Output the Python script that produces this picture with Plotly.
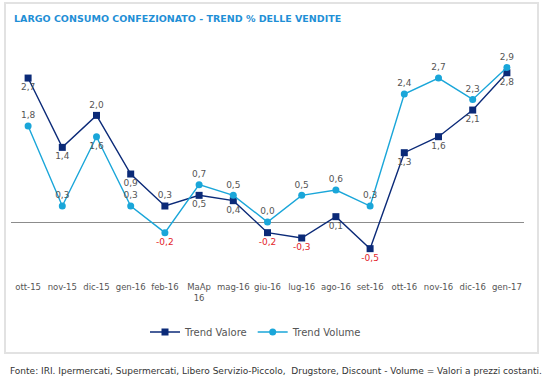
import plotly.graph_objects as go

categories = ["ott-15", "nov-15", "dic-15", "gen-16", "feb-16", "MaAp<br>16", "mag-16",
              "giu-16", "lug-16", "ago-16", "set-16", "ott-16", "nov-16", "dic-16", "gen-17"]
trend_valore = [2.7, 1.4, 2.0, 0.9, 0.3, 0.5, 0.4, -0.2, -0.3, 0.1, -0.5, 1.3, 1.6, 2.1, 2.8]
trend_volume = [1.8, 0.3, 1.6, 0.3, -0.2, 0.7, 0.5, 0.0, 0.5, 0.6, 0.3, 2.4, 2.7, 2.3, 2.9]

valore_pos = ["bottom center", "bottom center", "top center", "bottom center", "top center",
              "bottom center", "bottom center", "bottom center", "bottom center", "bottom center",
              "bottom center", "bottom center", "bottom center", "bottom center", "bottom center"]
volume_pos = ["top center", "top center", "bottom center", "top center", "bottom center",
              "top center", "top center", "top center", "top center", "top center",
              "top center", "top center", "top center", "top center", "top center"]

FONT = "DejaVu Sans"
GREY = "#555555"
RED = "#e3242b"
NAVY = "#0b2a78"
CYAN = "#1aa6d9"

def fmt(v):
    return f"{v:.1f}".replace(".", ",")

def colors(vals):
    return [RED if v < 0 else GREY for v in vals]

x = list(range(len(categories)))

fig = go.Figure()
fig.add_trace(go.Scatter(
    x=x, y=trend_valore, name="Trend Valore", mode="lines+markers+text",
    line=dict(color=NAVY, width=1.4),
    marker=dict(symbol="square", size=7, color=NAVY),
    text=[fmt(v) for v in trend_valore], textposition=valore_pos,
    textfont=dict(family=FONT, size=9, color=colors(trend_valore)),
    cliponaxis=False,
))
fig.add_trace(go.Scatter(
    x=x, y=trend_volume, name="Trend Volume", mode="lines+markers+text",
    line=dict(color=CYAN, width=1.4),
    marker=dict(symbol="circle", size=7, color=CYAN),
    text=[fmt(v) for v in trend_volume], textposition=volume_pos,
    textfont=dict(family=FONT, size=9, color=colors(trend_volume)),
    cliponaxis=False,
))

L, R, T, B = 11, 32, 40, 101
W, H = 556, 381
pw = W - L - R
ph = H - T - B

def px_x(p):
    return (p - L) / pw

def px_y(p):
    return (H - B - p) / ph

fig.update_layout(
    width=W, height=H,
    margin=dict(l=L, r=R, t=T, b=B),
    paper_bgcolor="white", plot_bgcolor="white",
    font=dict(family=FONT, color=GREY),
    showlegend=True,
    hovermode=False,
    legend=dict(orientation="h", x=px_x(256), xanchor="center", y=px_y(332), yanchor="middle",
                font=dict(family=FONT, size=10, color=GREY), bgcolor="rgba(0,0,0,0)",
                itemwidth=30),
    xaxis=dict(tickmode="array", tickvals=x, ticktext=categories, range=[-0.5, 14.5],
               showgrid=False, zeroline=False, showline=False, ticks="",
               tickfont=dict(family=FONT, size=8.5, color=GREY), tickangle=0),
    yaxis=dict(range=[-1.088, 3.414], showgrid=False, showticklabels=False, ticks="",
               zeroline=True, zerolinecolor="#8c8c8c", zerolinewidth=1, showline=False),
    shapes=[dict(type="rect", xref="paper", yref="paper",
                 x0=px_x(5), x1=px_x(538), y0=px_y(353), y1=px_y(3),
                 line=dict(color="#e2e2e2", width=2), fillcolor="rgba(0,0,0,0)", layer="below")],
    annotations=[
        dict(text="<b>LARGO CONSUMO CONFEZIONATO - TREND % DELLE VENDITE</b>",
             xref="paper", yref="paper", x=px_x(12), y=px_y(18), xanchor="left", yanchor="middle",
             showarrow=False, font=dict(family=FONT, size=9.5, color="#1f8fd6")),
        dict(text="Fonte: IRI. Ipermercati, Supermercati, Libero Servizio-Piccolo,  Drugstore, Discount - Volume = Valori a prezzi costanti.",
             xref="paper", yref="paper", x=px_x(8), y=px_y(371), xanchor="left", yanchor="middle",
             showarrow=False, font=dict(family=FONT, size=9, color="#333333")),
    ],
)

fig.write_html("out.html", config={"displayModeBar": False},
               post_script="document.body.style.margin='0';")
